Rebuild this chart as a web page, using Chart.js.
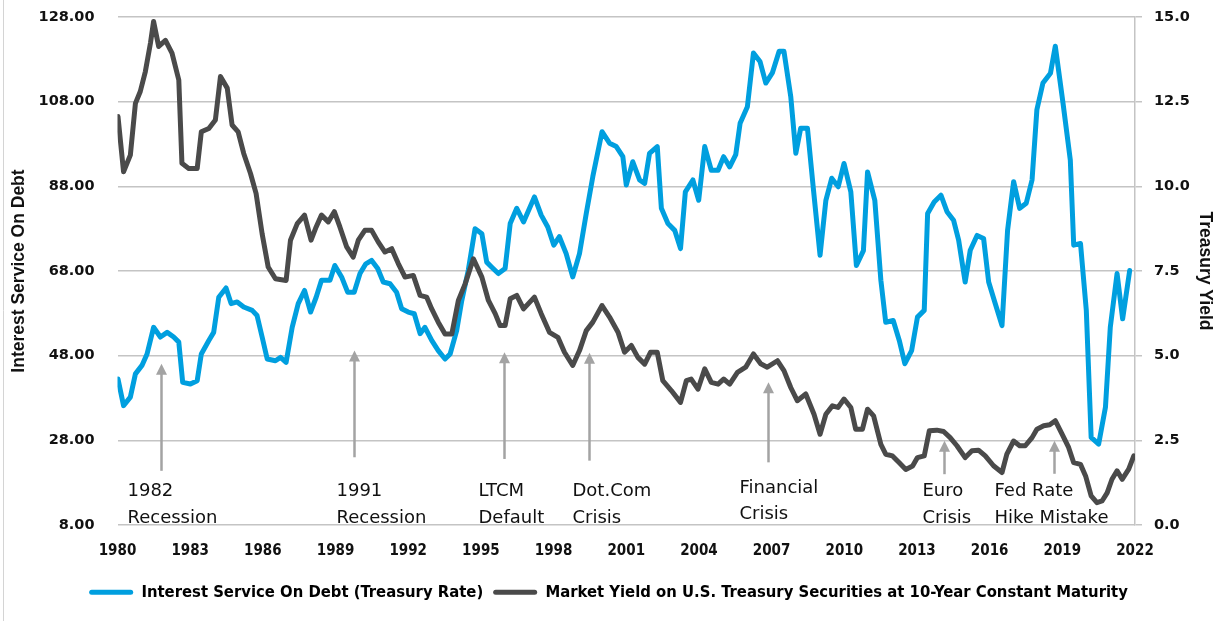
<!DOCTYPE html>
<html>
<head>
<meta charset="utf-8">
<script src="https://cdn.jsdelivr.net/npm/chart.js@4.4.0/dist/chart.umd.min.js"></script>
<style>
  html, body { margin: 0; padding: 0; background: #fff; }
  #wrap { width: 1217px; height: 621px; position: relative; }
</style>
</head>
<body>
<div id="wrap"><canvas id="graph1"></canvas></div>
<script>
// Interest service on debt (left axis), quarterly-ish readings
const debtYears = [
  1980.02, 1980.25, 1980.53, 1980.74, 1981.01, 1981.22, 1981.49, 1981.77, 1982.05, 1982.32,
  1982.53, 1982.69, 1983.01, 1983.29, 1983.46, 1983.77, 1983.97, 1984.18, 1984.48, 1984.69,
  1984.94, 1985.21, 1985.56, 1985.76, 1985.97, 1986.18, 1986.52, 1986.73, 1986.96, 1987.21,
  1987.46, 1987.72, 1987.97, 1988.20, 1988.42, 1988.77, 1988.97, 1989.25, 1989.50, 1989.77,
  1990.01, 1990.25, 1990.49, 1990.74, 1990.97, 1991.25, 1991.52, 1991.73, 1992.00, 1992.25,
  1992.49, 1992.69, 1992.97, 1993.24, 1993.52, 1993.73, 1994.00, 1994.21, 1994.48, 1994.76,
  1995.04, 1995.24, 1995.45, 1995.72, 1996.00, 1996.21, 1996.48, 1996.76, 1997.21, 1997.49,
  1997.76, 1998.01, 1998.24, 1998.52, 1998.79, 1999.07, 1999.35, 1999.62, 2000.00, 2000.31,
  2000.59, 2000.86, 2001.00, 2001.27, 2001.55, 2001.76, 2001.96, 2002.28, 2002.45, 2002.72,
  2003.00, 2003.24, 2003.44, 2003.75, 2003.99, 2004.24, 2004.51, 2004.79, 2005.02, 2005.27,
  2005.52, 2005.70, 2006.00, 2006.25, 2006.52, 2006.76, 2007.03, 2007.31, 2007.51, 2007.79,
  2008.00, 2008.20, 2008.48, 2008.73, 2009.00, 2009.24, 2009.48, 2009.75, 2009.99, 2010.27,
  2010.50, 2010.79, 2010.96, 2011.26, 2011.51, 2011.71, 2012.02, 2012.27, 2012.50, 2012.78,
  2013.02, 2013.30, 2013.44, 2013.71, 2013.99, 2014.24, 2014.51, 2014.72, 2014.99, 2015.20,
  2015.48, 2015.75, 2015.96, 2016.23, 2016.51, 2016.74, 2016.99, 2017.24, 2017.51, 2017.75,
  2017.95, 2018.20, 2018.51, 2018.71, 2019.03, 2019.33, 2019.47, 2019.75, 2019.99, 2020.19,
  2020.50, 2020.78, 2020.98, 2021.26, 2021.49, 2021.78
];
const debtValues = [
  42.5, 36.2, 38.2, 43.7, 45.7, 48.4, 54.7, 52.4, 53.5, 52.4,
  51.2, 41.7, 41.3, 42.1, 48.4, 51.6, 53.5, 61.8, 64.0, 60.3,
  60.7, 59.5, 58.7, 57.5, 52.4, 47.2, 46.8, 47.6, 46.4, 54.7,
  60.3, 63.4, 58.3, 61.8, 65.8, 65.8, 69.3, 66.6, 63.0, 63.0,
  67.4, 69.7, 70.5, 68.6, 65.4, 65.0, 63.0, 59.1, 58.3, 57.9,
  53.2, 54.7, 51.6, 49.2, 47.2, 48.4, 53.9, 61.0, 68.2, 78.0,
  76.8, 70.1, 68.9, 67.4, 68.6, 79.2, 82.8, 79.6, 85.5, 81.2,
  78.4, 74.1, 76.1, 72.1, 66.6, 72.1, 81.6, 90.3, 100.9, 98.2,
  97.4, 95.0, 88.3, 93.8, 89.5, 88.7, 95.8, 97.4, 82.8, 79.2,
  77.6, 73.3, 86.7, 89.5, 84.7, 97.4, 91.8, 91.8, 95.0, 92.6,
  95.5, 102.9, 106.8, 119.5, 117.5, 112.4, 114.8, 119.9, 119.9, 109.2,
  95.8, 101.7, 101.7, 87.1, 71.7, 84.7, 89.9, 87.9, 93.4, 86.7,
  69.3, 72.8, 91.4, 84.7, 65.8, 55.9, 56.3, 51.6, 46.1, 49.2,
  57.1, 58.7, 81.6, 84.3, 85.9, 82.0, 80.0, 75.3, 65.4, 72.9,
  76.4, 75.7, 65.4, 60.3, 55.1, 77.6, 89.1, 82.8, 84.0, 89.5,
  106.1, 112.4, 114.7, 121.1, 107.6, 94.2, 74.1, 74.5, 58.7, 28.7,
  27.1, 35.8, 54.7, 67.4, 56.7, 68.1
];

// 10-year constant maturity yield (right axis)
const yieldYears = [
  1980.02, 1980.25, 1980.53, 1980.74, 1980.94, 1981.15, 1981.36, 1981.49, 1981.70, 1981.98,
  1982.25, 1982.53, 1982.66, 1982.94, 1983.29, 1983.46, 1983.77, 1984.04, 1984.25, 1984.53,
  1984.73, 1984.98, 1985.21, 1985.49, 1985.72, 1985.97, 1986.22, 1986.52, 1986.96, 1987.14,
  1987.42, 1987.72, 1987.99, 1988.20, 1988.42, 1988.70, 1988.95, 1989.18, 1989.46, 1989.73,
  1989.94, 1990.21, 1990.49, 1990.76, 1991.04, 1991.32, 1991.59, 1991.87, 1992.21, 1992.49,
  1992.76, 1992.97, 1993.24, 1993.52, 1993.80, 1994.07, 1994.35, 1994.69, 1995.04, 1995.31,
  1995.59, 1995.79, 1996.00, 1996.21, 1996.48, 1996.76, 1997.21, 1997.49, 1997.83, 1998.18,
  1998.45, 1998.79, 1999.07, 1999.35, 1999.62, 2000.00, 2000.31, 2000.66, 2000.93, 2001.21,
  2001.48, 2001.76, 2002.00, 2002.28, 2002.51, 2002.86, 2003.24, 2003.48, 2003.68, 2003.96,
  2004.24, 2004.51, 2004.79, 2005.02, 2005.27, 2005.59, 2005.93, 2006.25, 2006.55, 2006.82,
  2007.24, 2007.51, 2007.79, 2008.06, 2008.41, 2008.75, 2009.00, 2009.24, 2009.51, 2009.74,
  2009.99, 2010.27, 2010.47, 2010.75, 2010.96, 2011.21, 2011.51, 2011.71, 2011.99, 2012.27,
  2012.54, 2012.82, 2013.02, 2013.30, 2013.51, 2013.82, 2014.10, 2014.37, 2014.65, 2014.99,
  2015.27, 2015.54, 2015.82, 2016.16, 2016.51, 2016.71, 2016.99, 2017.24, 2017.47, 2017.75,
  2017.95, 2018.23, 2018.48, 2018.71, 2018.99, 2019.26, 2019.47, 2019.75, 2019.96, 2020.19,
  2020.43, 2020.64, 2020.85, 2021.05, 2021.26, 2021.47, 2021.74, 2021.95
];
const yieldValues = [
  12.06, 10.43, 10.92, 12.45, 12.80, 13.39, 14.23, 14.87, 14.13, 14.31,
  13.93, 13.14, 10.68, 10.53, 10.53, 11.61, 11.71, 11.96, 13.24, 12.90,
  11.81, 11.61, 10.97, 10.38, 9.79, 8.60, 7.62, 7.27, 7.22, 8.41,
  8.90, 9.15, 8.41, 8.80, 9.15, 8.95, 9.25, 8.80, 8.21, 7.91,
  8.41, 8.70, 8.70, 8.36, 8.06, 8.16, 7.72, 7.32, 7.37, 6.78,
  6.73, 6.38, 5.99, 5.64, 5.64, 6.63, 7.12, 7.86, 7.32, 6.63,
  6.24, 5.89, 5.89, 6.68, 6.78, 6.38, 6.73, 6.24, 5.69, 5.54,
  5.10, 4.71, 5.15, 5.74, 5.99, 6.48, 6.14, 5.69, 5.10, 5.30,
  4.95, 4.75, 5.10, 5.10, 4.26, 3.97, 3.62, 4.26, 4.31, 4.01,
  4.61, 4.21, 4.16, 4.31, 4.16, 4.51, 4.66, 5.05, 4.76, 4.66,
  4.85, 4.56, 4.06, 3.67, 3.87, 3.27, 2.68, 3.27, 3.52, 3.47,
  3.72, 3.47, 2.83, 2.83, 3.42, 3.22, 2.38, 2.09, 2.04, 1.84,
  1.64, 1.74, 1.99, 2.04, 2.78, 2.80, 2.76, 2.58, 2.34, 1.99,
  2.19, 2.21, 2.04, 1.75, 1.55, 2.09, 2.48, 2.34, 2.34, 2.58,
  2.83, 2.93, 2.96, 3.08, 2.68, 2.29, 1.84, 1.79, 1.45, 0.86,
  0.66, 0.71, 0.95, 1.35, 1.60, 1.35, 1.65, 2.04
];

// events marked under the lines
const eventYears = [1981.79, 1989.77, 1995.97, 1999.45, 2006.87, 2014.10, 2018.64];
const eventLabels = [
  ['1982', 'Recession'],
  ['1991', 'Recession'],
  ['LTCM', 'Default'],
  ['Dot.Com', 'Crisis'],
  ['Financial', 'Crisis'],
  ['Euro', 'Crisis'],
  ['Fed Rate', 'Hike Mistake']
];

const xTicks = [1980, 2022, 3];
const leftTicks = [8, 128, 20];
const rightTicks = [0, 15, 2.5];

// arrow tip / foot in left-axis units, text offset in px
const arrowLayout = [
  { tip: 46.1, foot: 20.8, dx: -34, dy: 0 },
  { tip: 49.2, foot: 24.0, dx: -18, dy: 0 },
  { tip: 48.8, foot: 23.6, dx: -26, dy: 0 },
  { tip: 48.7, foot: 23.2, dx: -17, dy: 0 },
  { tip: 41.7, foot: 22.8, dx: -29, dy: -3.5 },
  { tip: 27.9, foot: 20.0, dx: -22, dy: 0 },
  { tip: 27.9, foot: 20.1, dx: -60, dy: 0 }
];

const BLUE = '#009FDF';
const DARK = '#4A4A4A';
const GRID = '#C4C4C4';
const ARROW = '#A3A3A3';

const eventArrows = {
    id: 'eventArrows',
    afterDatasetsDraw(chart) {
        const ctx = chart.ctx;
        const x = chart.scales.x;
        const y = chart.scales.y;
        const bottom = chart.chartArea.bottom;
        ctx.save();
        eventYears.forEach((yr, i) => {
            const lay = arrowLayout[i];
            const px = Math.round(x.getPixelForValue(yr)) + 0.5;
            const top = y.getPixelForValue(lay.tip);
            const foot = y.getPixelForValue(lay.foot);
            ctx.strokeStyle = ARROW;
            ctx.lineWidth = 2.5;
            ctx.beginPath();
            ctx.moveTo(px, foot);
            ctx.lineTo(px, top + 8);
            ctx.stroke();
            ctx.fillStyle = ARROW;
            ctx.beginPath();
            ctx.moveTo(px, top);
            ctx.lineTo(px - 5.5, top + 11);
            ctx.lineTo(px + 5.5, top + 11);
            ctx.closePath();
            ctx.fill();

            ctx.fillStyle = '#111';
            ctx.font = '18px "DejaVu Sans"';
            ctx.textAlign = 'left';
            ctx.textBaseline = 'alphabetic';
            eventLabels[i].forEach((line, j) => {
                ctx.fillText(line, px + lay.dx, bottom - 29 + lay.dy + j * 26.5);
            });
        });
        ctx.restore();
    }
};

// thin frame line down the left edge
const frame = {
    id: 'frame',
    beforeDraw(chart) {
        const ctx = chart.ctx;
        ctx.save();
        ctx.strokeStyle = '#D4D4D4';
        ctx.lineWidth = 1;
        ctx.beginPath();
        ctx.moveTo(3.5, 0);
        ctx.lineTo(3.5, chart.height);
        ctx.stroke();
        ctx.restore();
    }
};

// the tick padding would otherwise push the plot top down
function fitVertical(width) {
    return scale => {
        scale.width = width;
        scale.paddingTop = 0;
        scale.paddingBottom = 0;
    };
}

const config = {
    type: 'line',
    data: {
        datasets: [
            {
                label: 'Interest Service On Debt (Treasury Rate)',
                data: debtYears.map((yr, i) => ({ x: yr, y: debtValues[i] })),
                borderColor: BLUE,
                backgroundColor: BLUE,
                borderWidth: 5,
                pointRadius: 0,
                tension: 0,
                borderJoinStyle: 'round',
                borderCapStyle: 'round',
                yAxisID: 'y',
                order: 1
            },
            {
                label: 'Market Yield on U.S. Treasury Securities at 10-Year Constant Maturity',
                data: yieldYears.map((yr, i) => ({ x: yr, y: yieldValues[i] })),
                borderColor: DARK,
                backgroundColor: DARK,
                borderWidth: 5,
                pointRadius: 0,
                tension: 0,
                borderJoinStyle: 'round',
                borderCapStyle: 'round',
                yAxisID: 'y1',
                order: 0
            }
        ]
    },
    options: {
        responsive: true,
        maintainAspectRatio: false,
        animation: false,
        layout: { padding: { top: 17, bottom: 10.5, left: 0, right: 0 } },
        plugins: {
            tooltip: { enabled: false },
            legend: {
                position: 'bottom',
                labels: {
                    boxWidth: 44,
                    boxHeight: 5,
                    padding: 10,
                    color: '#111',
                    font: { family: '"Liberation Sans Narrow", "DejaVu Sans Condensed", sans-serif', size: 16.5, weight: 'bold' },
                    generateLabels(chart) {
                        return chart.data.datasets.map((ds, i) => ({
                            text: ds.label,
                            fillStyle: ds.borderColor,
                            strokeStyle: ds.borderColor,
                            lineWidth: 0,
                            borderRadius: 2.5,
                            datasetIndex: i,
                            hidden: false
                        }));
                    },
                    useBorderRadius: true
                }
            }
        },
        scales: {
            x: {
                type: 'linear',
                min: xTicks[0],
                max: xTicks[1],
                grid: { display: false },
                border: { display: false },
                ticks: {
                    stepSize: xTicks[2],
                    autoSkip: false,
                    maxRotation: 0,
                    padding: 9,
                    color: '#111',
                    font: { family: '"Liberation Sans Narrow", "DejaVu Sans Condensed", sans-serif', size: 15, weight: 'bold' },
                    callback: value => String(value)
                },
                afterFit(scale) { scale.height = 49; }
            },
            y: {
                position: 'left',
                min: leftTicks[0],
                max: leftTicks[1],
                grid: { color: GRID, lineWidth: 1.5, drawTicks: false },
                border: { display: false },
                ticks: {
                    stepSize: leftTicks[2],
                    padding: 23,
                    color: '#111',
                    font: { family: '"DejaVu Sans"', size: 14.5, weight: 'bold' },
                    callback: value => value.toFixed(2)
                },
                title: {
                    display: true,
                    text: 'Interest Service On Debt',
                    color: '#111',
                    font: { family: '"Liberation Sans", Arial, sans-serif', size: 17.5, weight: 'bold' },
                    padding: { top: 9, bottom: 0 }
                },
                afterFit: fitVertical(117.5)
            },
            y1: {
                position: 'right',
                min: rightTicks[0],
                max: rightTicks[1],
                grid: { drawOnChartArea: false, drawTicks: true, tickLength: 7, color: GRID, lineWidth: 1.5 },
                border: { display: true, color: GRID, width: 1.5 },
                ticks: {
                    stepSize: rightTicks[2],
                    padding: 12,
                    color: '#111',
                    font: { family: '"DejaVu Sans"', size: 14.5, weight: 'bold' },
                    callback: value => value.toFixed(1)
                },
                title: {
                    display: true,
                    text: 'Treasury Yield',
                    color: '#111',
                    font: { family: '"Liberation Sans", Arial, sans-serif', size: 17.5, weight: 'bold' },
                    padding: { top: 2, bottom: 0 }
                },
                afterFit: fitVertical(82)
            }
        }
    },
    plugins: [frame, eventArrows]
};

const chart = new Chart(document.getElementById('graph1'), config);
</script>
</body>
</html>
